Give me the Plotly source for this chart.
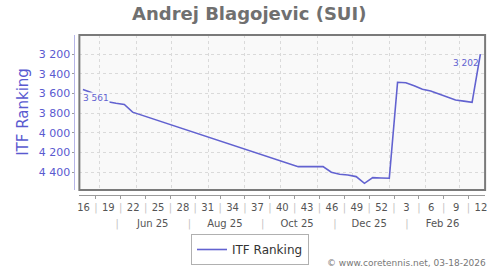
import plotly.graph_objects as go
from datetime import datetime, timedelta

# ---------------- data ----------------
dates = [
    "2025-04-17", "2025-04-24", "2025-05-01", "2025-05-08", "2025-05-15",
    "2025-05-22", "2025-05-29", "2025-10-16", "2025-10-23", "2025-10-30",
    "2025-11-06", "2025-11-13", "2025-11-20", "2025-11-27", "2025-12-04",
    "2025-12-11", "2025-12-18", "2025-12-25", "2026-01-01", "2026-01-08",
    "2026-01-15", "2026-01-22", "2026-01-29", "2026-02-05", "2026-02-12",
    "2026-02-19", "2026-02-26", "2026-03-05", "2026-03-12", "2026-03-19",
]
ranks = [
    3561, 3590, 3640, 3684, 3700,
    3712, 3790, 4343, 4343, 4343,
    4343, 4400, 4420, 4427, 4444,
    4512, 4454, 4458, 4461, 3487,
    3491, 3521, 3558, 3575, 3605,
    3643, 3666, 3678, 3690, 3202,
]
week_labels = ["16", "19", "22", "25", "28", "31", "34", "37", "40",
               "43", "46", "49", "52", "3", "6", "9", "12"]
week_label_years = [2025] * 13 + [2026] * 4
month_labels = ["Jun 25", "Aug 25", "Oct 25", "Dec 25", "Feb 26"]
month_label_dates = ["2025-06-15", "2025-08-15", "2025-10-15", "2025-12-15", "2026-02-15"]
month_sep_dates = ["2025-05-16", "2025-07-16", "2025-09-16", "2025-11-16", "2026-01-16"]
month_grid = ["2025-05-01", "2025-06-01", "2025-07-01", "2025-08-01", "2025-09-01",
              "2025-10-01", "2025-11-01", "2025-12-01", "2026-01-01", "2026-02-01",
              "2026-03-01"]
y_ticks = [3200, 3400, 3600, 3800, 4000, 4200, 4400]

# ---------------- layout helpers ----------------
W, H = 500, 270
def px(x):
    return x / W
def py(y):
    return 1 - y / H

def fmt(d):
    return d.strftime("%Y-%m-%d %H:%M")

# week label positions: Thursday noon of the ISO week
week_pos = [fmt(datetime.fromisocalendar(y, int(w), 4) + timedelta(hours=12))
            for w, y in zip(week_labels, week_label_years)]
# separators halfway between labelled weeks
sep_pos = [fmt(datetime.fromisocalendar(y, int(w), 4) + timedelta(hours=12, days=10.5))
           for w, y in zip(week_labels[:-1], week_label_years[:-1])]

x_range = ["2025-04-14 00:00", "2026-03-23 00:00"]
x_dom = [px(78), px(487)]
y_dom = [py(190), py(35)]

LINE = "#6262d0"
AXIS_TXT = "#5a5ad0"
SEP = "<span style='color:#c4c4c4'>|</span>"
FONT = "DejaVu Sans"

fig = go.Figure()
fig.add_trace(go.Scatter(
    x=dates, y=ranks, mode="lines", name="ITF Ranking",
    line=dict(color=LINE, width=1.6),
    xaxis="x", yaxis="y",
))
# helper invisible traces so overlay axes exist
fig.add_trace(go.Scatter(x=[dates[0]], y=[None], xaxis="x2", yaxis="y",
                         showlegend=False, hoverinfo="skip"))
fig.add_trace(go.Scatter(x=[dates[0]], y=[None], xaxis="x3", yaxis="y",
                         showlegend=False, hoverinfo="skip"))

common_x = dict(type="date", range=x_range, domain=x_dom, fixedrange=True)

fig.update_layout(
    width=W, height=H,
    margin=dict(l=0, r=0, t=0, b=0),
    paper_bgcolor="white",
    plot_bgcolor="#f9f9f9",
    separators=". ",
    font=dict(family=FONT, size=10, color="#555"),
    showlegend=True,
    xaxis=dict(
        **common_x, anchor="free", position=py(195),
        showline=True, linecolor="#9a9a9a", linewidth=1,
        tickmode="array", tickvals=sep_pos, ticktext=[SEP] * len(sep_pos),
        ticks="outside", ticklen=3, tickcolor="#9a9a9a",
        tickfont=dict(size=10), tickangle=0,
        showgrid=False, zeroline=False,
        minor=dict(tickmode="array", tickvals=month_grid, showgrid=True,
                   gridcolor="#dadada", griddash="3px,3px", gridwidth=1, ticks=""),
    ),
    xaxis2=dict(
        **common_x, overlaying="x", anchor="free", position=py(195),
        showline=False, showgrid=False, zeroline=False,
        tickmode="array", tickvals=week_pos, ticktext=week_labels,
        ticks="outside", ticklen=3, tickcolor="rgba(0,0,0,0)",
        tickfont=dict(size=10, color="#555"), tickangle=0,
    ),
    xaxis3=dict(
        **common_x, overlaying="x", anchor="free", position=py(211),
        showline=False, showgrid=False, zeroline=False,
        tickmode="array",
        tickvals=month_label_dates + month_sep_dates,
        ticktext=month_labels + [SEP] * len(month_sep_dates),
        ticks="outside", ticklen=3, tickcolor="rgba(0,0,0,0)",
        tickfont=dict(size=10, color="#555"), tickangle=0,
    ),
    yaxis=dict(
        domain=y_dom, range=[4580, 3007], anchor="free", position=px(73),
        fixedrange=True,
        showline=True, linecolor="#b6b6e8", linewidth=1,
        tickmode="array", tickvals=y_ticks, tickformat=",d",
        ticks="outside", ticklen=2, tickcolor="#9a9a9a",
        tickfont=dict(size=11, color=AXIS_TXT),
        showgrid=True, gridcolor="#dadada", griddash="3px,3px", gridwidth=1,
        zeroline=False,
    ),
    legend=dict(
        x=0.5, xanchor="center", y=py(234), yanchor="top",
        orientation="h", bordercolor="#b0b0b0", borderwidth=1,
        bgcolor="white", font=dict(size=12, color="#333"),
        itemwidth=30,
    ),
)

# plot frame
fig.add_shape(type="rect", xref="paper", yref="paper",
              x0=x_dom[0], x1=x_dom[1], y0=y_dom[0], y1=y_dom[1],
              line=dict(color="#7a7a7a", width=2), layer="above")

def lab(v):
    return f"{v:,}".replace(",", " ")

# first / last value labels
fig.add_annotation(x=dates[0], y=ranks[0], xref="x", yref="y",
                   text=lab(ranks[0]), showarrow=False,
                   xanchor="left", yanchor="top", yshift=-2, xshift=-1,
                   font=dict(size=9, color=LINE), bgcolor="#f9f9f9", borderpad=0)
fig.add_annotation(x=dates[-1], y=ranks[-1], xref="x", yref="y",
                   text=lab(ranks[-1]), showarrow=False,
                   xanchor="right", yanchor="top", yshift=-3, xshift=0,
                   font=dict(size=9, color=LINE), borderpad=0)

# title
fig.add_annotation(x=px(249), y=py(14), xref="paper", yref="paper",
                   text="<b>Andrej Blagojevic (SUI)</b>", showarrow=False,
                   xanchor="center", yanchor="middle",
                   font=dict(size=18, color="#707070", family=FONT))
# y axis title
fig.add_annotation(x=px(21), y=py(112), xref="paper", yref="paper",
                   text="ITF Ranking", showarrow=False, textangle=-90,
                   xanchor="center", yanchor="middle",
                   font=dict(size=15, color=AXIS_TXT, family=FONT))
# credit
fig.add_annotation(x=px(490), y=py(263), xref="paper", yref="paper",
                   text="© www.coretennis.net, 03-18-2026", showarrow=False,
                   xanchor="right", yanchor="middle",
                   font=dict(size=9, color="#777", family=FONT))

fig.write_html("out.html")
